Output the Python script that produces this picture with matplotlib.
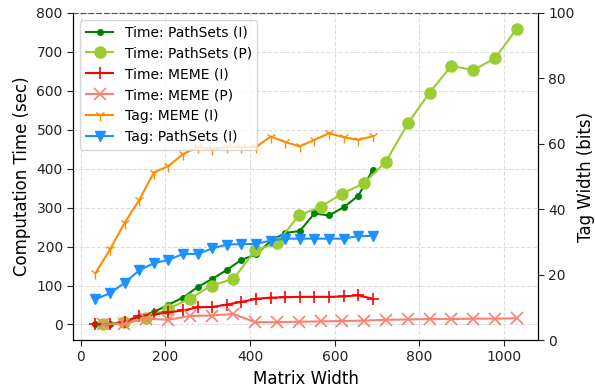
import matplotlib
matplotlib.use("Agg")
import matplotlib.pyplot as plt

# matrix widths for the incremental (I) and parallel (P) runs
width_i = [34.5, 69, 103.5, 138, 172.5, 207, 241.5, 276, 310.5, 345,
           379.5, 414, 448.5, 483, 517.5, 552, 586.5, 621, 655.5, 690]
width_p = [51.5, 103, 154.5, 206, 257.5, 309, 360.5, 412, 463.5, 515,
           566.5, 618, 669.5, 721, 772.5, 824, 875.5, 927, 978.5, 1030]

# computation time (sec)
time_pathsets_i = [0, 0, 9, 20, 32, 51, 69, 96, 117, 140,
                   166, 180, 214, 235, 240, 285, 280, 301, 330, 397]
time_pathsets_p = [0, 6, 17, 40, 66, 100, 117, 190, 209, 280,
                   302, 336, 363, 418, 516, 595, 664, 653, 683, 759]
time_meme_i = [0, 0, 6, 22, 26, 31, 36, 44, 45, 51,
               58, 66, 69, 70, 71, 71, 71, 72, 75, 66]
time_meme_p = [0, 2, 15, 12, 22, 23, 27, 6, 6, 7,
               8, 9, 10, 12, 13, 14, 14, 15, 15, 16]

# tag width (bits)
tag_meme_i = [20.4, 27.7, 35.8, 42.8, 51.2, 53.2, 56.8, 59, 58.3, 59.1,
              59, 59, 62.2, 60.5, 59.2, 61.2, 63.2, 62, 61.2, 62.3]
tag_pathsets_i = [12.5, 14.3, 17.5, 21.3, 23.5, 24.5, 26.3, 26.3, 28, 29.2,
                  29.3, 29.4, 30.4, 31, 31, 31, 31, 31, 31.8, 31.8]

fig = plt.figure(figsize=(5.95, 3.9), dpi=100)
ax = fig.add_axes([0.123, 0.128, 0.781, 0.839])
ax2 = ax.twinx()

l1, = ax.plot(width_i, time_pathsets_i, color='green', marker='.', ms=8,
              lw=1.5, label='Time: PathSets (I)')
l2, = ax.plot(width_p, time_pathsets_p, color='yellowgreen', marker='o', ms=8,
              lw=1.5, label='Time: PathSets (P)')
l3, = ax.plot(width_i, time_meme_i, color='red', marker='+', ms=8, mew=1.2,
              lw=1.5, label='Time: MEME (I)')
l4, = ax.plot(width_p, time_meme_p, color='salmon', marker='x', ms=8, mew=1.2,
              lw=1.5, label='Time: MEME (P)')
l5, = ax2.plot(width_i, tag_meme_i, color='darkorange', marker='1', ms=8,
               mew=1.0, lw=1.5, label='Tag: MEME (I)')
l6, = ax2.plot(width_i, tag_pathsets_i, color='dodgerblue', marker='v', ms=7,
               lw=1.5, label='Tag: PathSets (I)')

ax.set_xlim(-18, 1080)
ax.set_ylim(-40, 800)
ax2.set_ylim(0, 100)
ax.set_xticks([0, 200, 400, 600, 800, 1000])
ax.set_yticks(range(0, 801, 100))
ax2.set_yticks(range(0, 101, 20))

ax.grid(True, ls='--', color='#dddddd', lw=0.8)
ax.set_axisbelow(True)

for a in (ax, ax2):
    a.spines['top'].set_linestyle((0, (4, 3)))
    a.spines['top'].set_color('#555555')
    a.tick_params(direction='out', labelsize=10, colors='#222222', length=4)

ax.set_xlabel('Matrix Width', fontsize=12)
ax.set_ylabel('Computation Time (sec)', fontsize=12)
ax2.set_ylabel('Tag Width (bits)', fontsize=12, labelpad=2)

ax2.legend(handles=[l1, l2, l3, l4, l5, l6], loc='upper left',
           fontsize=10, framealpha=0.8, borderpad=0.4, labelspacing=0.5,
           handlelength=2.0)

fig.savefig('out.png', dpi=100)
